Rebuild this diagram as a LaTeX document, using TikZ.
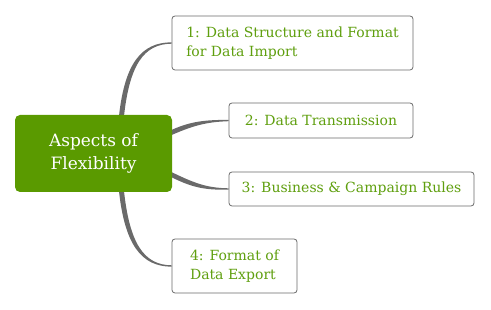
\documentclass[tikz,border=0pt]{standalone}
\usepackage{fontspec}
\setmainfont{DejaVu Serif}
\usetikzlibrary{backgrounds}
\definecolor{rootgreen}{HTML}{5A9A00}
\definecolor{leafgreen}{HTML}{5F9F0E}
\definecolor{linegray}{HTML}{6A6A6A}
\begin{document}
\begin{tikzpicture}[x=1pt,y=-1pt,every node/.style={font=\fontsize{14}{19}\selectfont},
                    roottopic/.style={rounded corners=5pt, fill=rootgreen, text=white, align=center,
                                      minimum width=157pt, minimum height=77pt, inner sep=0pt,
                                      font=\fontsize{17}{23}\selectfont},
                    subtopic/.style={draw=linegray, line width=0.8pt, rounded corners=3pt, fill=white, text=leafgreen,
                                     align=left, inner xsep=0pt, inner ysep=0pt},
                    branch/.style={fill=linegray}]
                \useasboundingbox (0,0) rectangle (491,310);
                \node[roottopic] (root) at (93.5,153.5) {Aspects of\\Flexibility};
                \node[subtopic, minimum width=241pt, minimum height=54pt] (n1) at (292.5,43)
                {1: Data Structure and Format\\for Data Import};
                \node[subtopic, minimum width=184pt, minimum height=35pt] (n2) at (321,120.5) {2: Data Transmission};
                \node[subtopic, minimum width=245pt, minimum height=34pt] (n3) at (351.5,189) {3: Business \& Campaign Rules};
                \node[subtopic, minimum width=125pt, minimum height=54pt] (n4) at (234.5,266)
                {4: Format of\\Data Export};
                \begin{scope}[on background layer]
                \fill[branch] ([xshift=25pt,yshift=-6pt]root.north) .. controls (124,62) and (142,42.5) .. ([yshift=0.7pt]n1.west)
                    -- ([yshift=-0.7pt]n1.west) .. controls (144,44) and (129,64) .. ([xshift=30pt,yshift=-6pt]root.north) -- cycle;
                \fill[branch] ([xshift=25pt,yshift=6pt]root.south) .. controls (124,246) and (142,266.5) .. ([yshift=-0.7pt]n4.west)
                    -- ([yshift=0.7pt]n4.west) .. controls (144,265) and (129,244) .. ([xshift=30pt,yshift=6pt]root.south) -- cycle;
                \fill[branch] ([xshift=-4pt,yshift=22pt]root.east) .. controls (190,121) and (205,120) .. ([yshift=0.7pt]n2.west)
                    -- ([yshift=-0.7pt]n2.west) .. controls (205,122) and (192,126) .. ([xshift=-4pt,yshift=17pt]root.east) -- cycle;
                \fill[branch] ([xshift=-4pt,yshift=-22pt]root.east) .. controls (192,188) and (205,190) .. ([yshift=-0.7pt]n3.west)
                    -- ([yshift=0.7pt]n3.west) .. controls (205,188) and (192,182) .. ([xshift=-4pt,yshift=-17pt]root.east) -- cycle;
                \end{scope}
            \end{tikzpicture}
\end{document}
